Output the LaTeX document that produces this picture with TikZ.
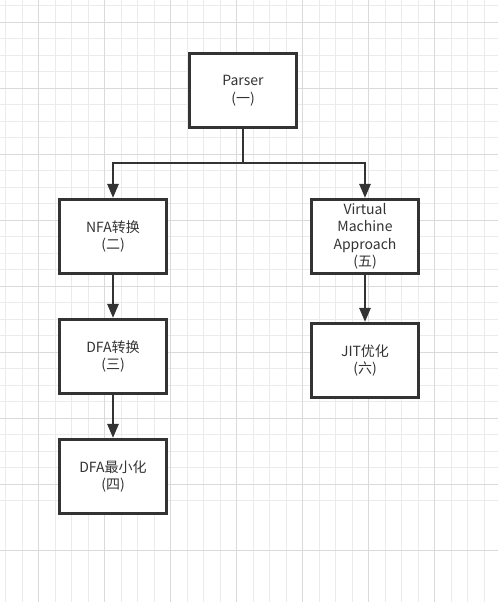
\documentclass[tikz,border=0pt]{standalone}
\usepackage{fontspec}
\setmainfont{Noto Sans CJK SC}
\usetikzlibrary{arrows.meta,positioning}
\definecolor{ink}{HTML}{333333}
\definecolor{gridminor}{HTML}{EBEBEB}
\definecolor{gridmajor}{HTML}{DADADA}

\begin{document}
\begin{tikzpicture}[x=1pt, y=1pt, font=\fontsize{14}{17.5}\selectfont, node distance={120pt}, box/.style = {draw=ink, fill=white, line width=2.6pt, minimum width=107.5pt, minimum height=74.5pt, align=center, text=ink, inner sep=0pt}, link/.style = {draw=ink, line width=2.6pt}, arrow/.style = {link, -{Triangle[length=14pt, width=11pt]}}]
                \useasboundingbox (0,0) rectangle (498,-602);
                \fill[white] (0,0) rectangle (498,-602);
                % background grid
                \foreach \k in {0,...,30} {
                    \draw[gridminor, line width=0.7pt] (5.5+16.5*\k,0) -- (5.5+16.5*\k,-602);
                    \draw[gridminor, line width=0.7pt] (0,-5.5-16.5*\k) -- (498,-5.5-16.5*\k);
                }
                \foreach \k in {0,...,8} {
                    \draw[gridmajor, line width=0.8pt] (38.5+66*\k,0) -- (38.5+66*\k,-602);
                    \draw[gridmajor, line width=0.8pt] (0,-22-66*\k) -- (498,-22-66*\k);
                }
                \node[box] (parser) at (243,-90.5) {Parser\\(一)};
                \node[box] (nfa) at (113,-236.5) {NFA转换\\(二)};
                \node[box] (dfa) [below of=nfa] {DFA转换\\(三)};
                \node[box] (mindfa) [below of=dfa] {DFA最小化\\(四)};
                \node[box] (vm) at (365,-236.5) {Virtual\\Machine\\Approach\\(五)};
                \node[box] (jit) [below of=vm, node distance=124pt] {JIT优化\\(六)};
                \coordinate (fork) at (243,-163);
                \draw[link] (parser) -- (fork);
                \draw[arrow] (fork) -| (nfa);
                \draw[arrow] (fork) -| (vm);
                \draw[arrow] (nfa) -- (dfa);
                \draw[arrow] (dfa) -- (mindfa);
                \draw[arrow] (vm) -- (jit);
            \end{tikzpicture}
\end{document}
